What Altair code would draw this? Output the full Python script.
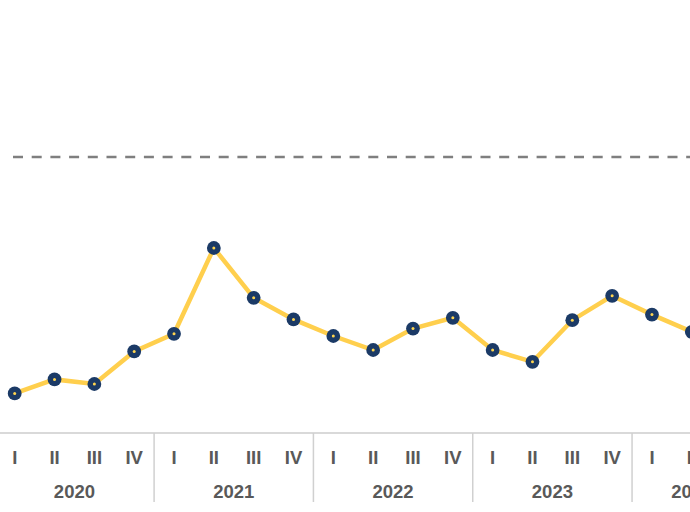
import altair as alt
import pandas as pd

# Periods (quarters) and years
years = [2020] * 4 + [2021] * 4 + [2022] * 4 + [2023] * 4 + [2024] * 3
quarters = ["I", "II", "III", "IV"] * 4 + ["I", "II", "III"]
# Values (visible points only)
values = [9.9, 13.4, 12.25, 20.4, 24.8, 46.25, 33.8, 28.4, 24.25, 20.75,
          26.1, 28.8, 20.75, 17.8, 28.2, 34.3, 29.6, 25.3]
reference_value = 69.0
year_breaks = [3.5, 7.5, 11.5, 15.5]

n = len(quarters)
df = pd.DataFrame({
    "idx": list(range(n)),
    "year": [str(y) for y in years],
    "quarter": quarters,
    "value": values + [None] * (n - len(values)),
})
pts = df.dropna(subset=["value"])
ref_df = pd.DataFrame({"ref": [reference_value]})
brk_df = pd.DataFrame({"b": year_breaks})

W, H = 690, 433
xscale = alt.Scale(domain=[-0.369, 16.955], nice=False, zero=False)
yscale = alt.Scale(domain=[0, 108.25], nice=False, zero=False)
X = alt.X("idx:Q", scale=xscale, axis=None)

base = alt.Chart(df)

axis_line = alt.Chart(ref_df).mark_rule(color="#D9D9D9", strokeWidth=2).encode(
    x=alt.value(0), x2=alt.value(W), y=alt.value(H)
)

ref_line = alt.Chart(ref_df).mark_rule(
    color="#7F7F7F", strokeWidth=2.5, strokeDash=[10, 8.7]
).encode(
    y=alt.Y("ref:Q", scale=yscale, axis=None),
    x=alt.value(13), x2=alt.value(W)
)

seps = alt.Chart(brk_df).mark_rule(color="#D0D0D0", strokeWidth=1.5).encode(
    x=alt.X("b:Q", scale=xscale, axis=None),
    y=alt.value(H), y2=alt.value(H + 69)
)

line = alt.Chart(pts).mark_line(color="#FFCF4D", strokeWidth=4.5, clip=True).encode(
    x=X, y=alt.Y("value:Q", scale=yscale, axis=None)
)
dots = alt.Chart(pts).mark_circle(color="#1B3A66", opacity=1, size=190, clip=True).encode(
    x=X, y=alt.Y("value:Q", scale=yscale, axis=None)
)
centers = alt.Chart(pts).mark_circle(color="#FFD54F", opacity=1, size=9, clip=True).encode(
    x=X, y=alt.Y("value:Q", scale=yscale, axis=None)
)

qlabels = base.mark_text(
    font="Liberation Sans", fontSize=18.5, fontWeight="bold", color="#595959",
    baseline="middle"
).encode(x=X, y=alt.value(H + 25), text="quarter:N")

ylabels = base.transform_aggregate(
    mid="mean(idx)", groupby=["year"]
).mark_text(
    font="Liberation Sans", fontSize=18.5, fontWeight="bold", color="#595959",
    baseline="middle"
).encode(
    x=alt.X("mid:Q", scale=xscale, axis=None), y=alt.value(H + 59), text="year:N"
)

chart = alt.layer(
    axis_line, ref_line, seps, line, dots, centers, qlabels, ylabels
).properties(
    width=W, height=H,
    autosize=alt.AutoSizeParams(type="none"),
    padding={"left": 0, "top": 0, "right": 0, "bottom": 79},
).configure(background="white").configure_view(stroke=None)

chart.save("out.html", embed_options={"renderer": "svg", "actions": False})
